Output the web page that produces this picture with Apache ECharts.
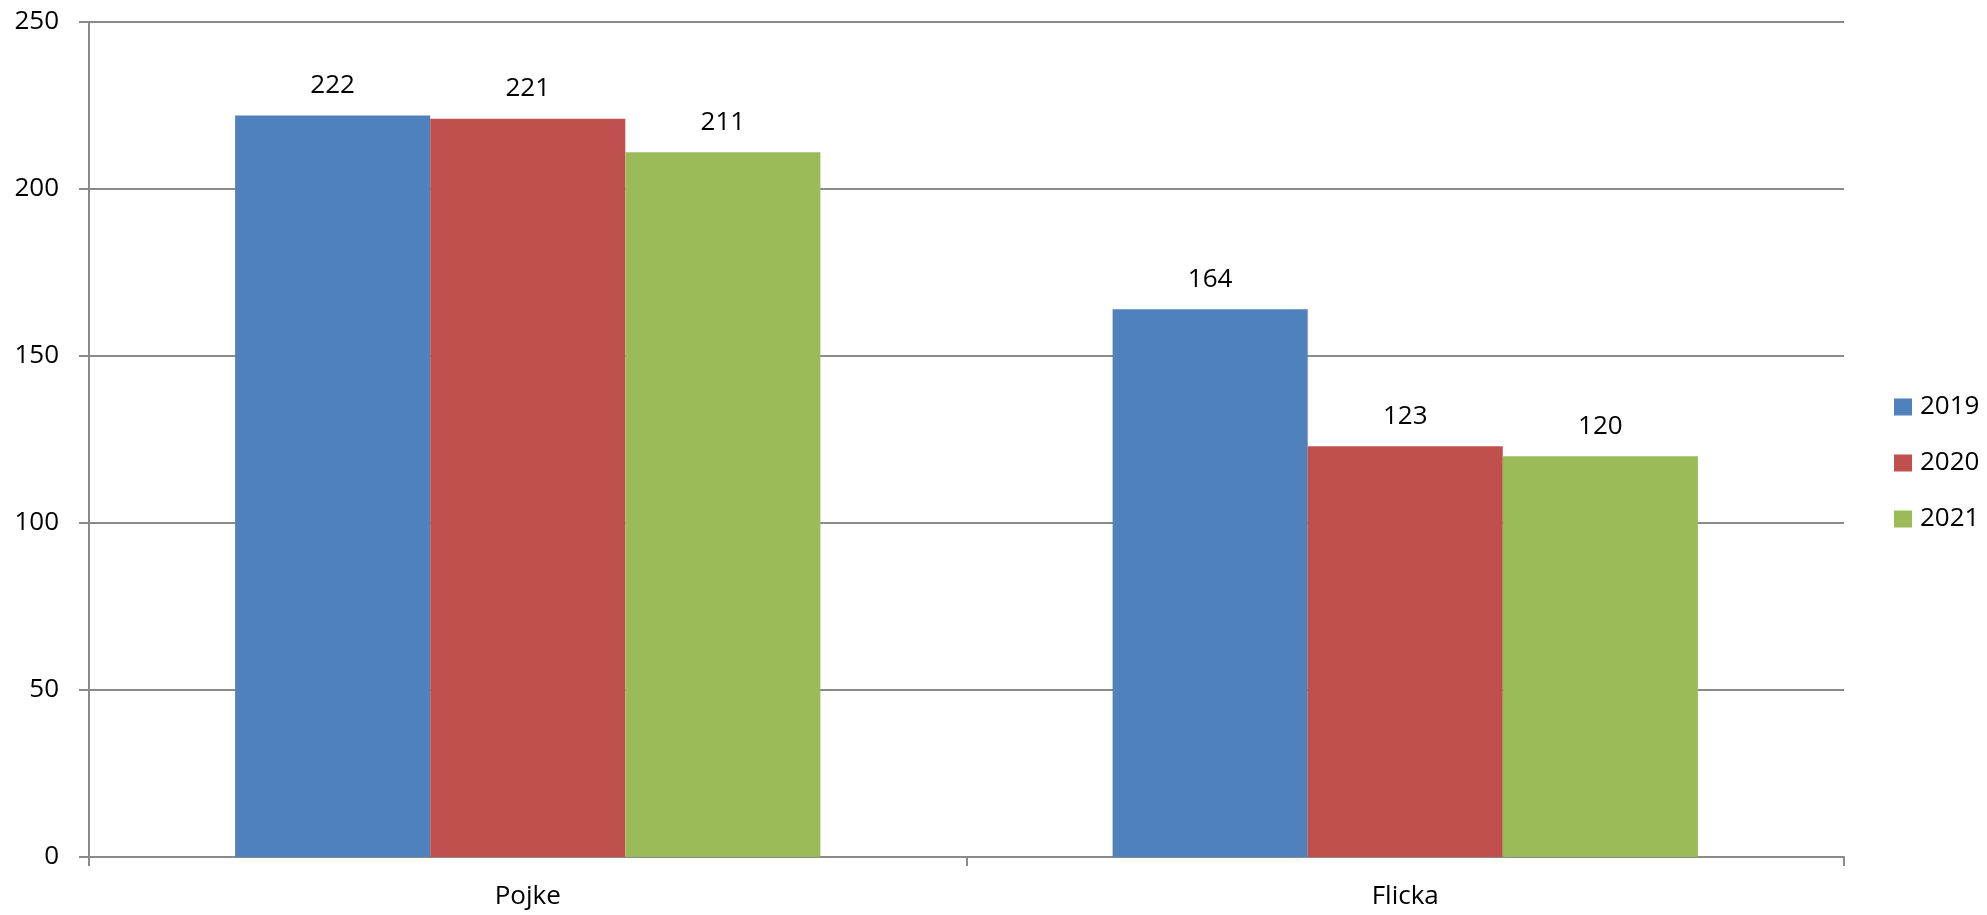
<!DOCTYPE html>
<html>
<head>
<meta charset="utf-8">
<script src="https://cdn.jsdelivr.net/npm/echarts@6/dist/echarts.min.js"></script>
<style>
  html, body { margin: 0; padding: 0; background: #fff; }
  #chart { width: 1987px; height: 915px; }
</style>
</head>
<body>
<div id="chart"></div>
<script>
// data
const categories = ['Pojke', 'Flicka']
const years = ['2019', '2020', '2021']
const values2019 = [222, 164]
const values2020 = [221, 123]
const values2021 = [211, 120]
const colors = ['#4F81BD', '#C0504D', '#9BBB59']

const font = '"Open Sans", sans-serif'
const axisGray = '#8a8a8a'

const chart = echarts.init(document.getElementById('chart'))

const seriesData = [values2019, values2020, values2021]
const series = years.map((y, i) => ({
  name: y,
  type: 'bar',
  data: seriesData[i],
  barGap: '0%',
  barCategoryGap: '33.3%',
  itemStyle: { color: colors[i] },
  label: {
    show: true,
    position: 'top',
    distance: 17,
    fontFamily: font,
    fontSize: 26,
    color: '#000'
  }
}))

chart.setOption({
  animation: false,
  color: colors,
  grid: { left: 89, right: 143, top: 22, bottom: 58, containLabel: false },
  legend: {
    orient: 'vertical',
    left: 1889,
    top: 389,
    itemWidth: 18,
    itemHeight: 17,
    itemGap: 30,
    icon: 'rect',
    textStyle: { fontFamily: font, fontSize: 26, color: '#000', lineHeight: 26, padding: [0, 0, 0, 3] },
    data: years
  },
  xAxis: {
    type: 'category',
    data: categories,
    axisLine: { lineStyle: { color: axisGray, width: 2 } },
    axisTick: { show: true, length: 9, lineStyle: { color: axisGray, width: 2 } },
    axisLabel: { fontFamily: font, fontSize: 26, color: '#000', margin: 27 }
  },
  yAxis: {
    type: 'value',
    min: 0,
    max: 250,
    interval: 50,
    axisLine: { show: true, lineStyle: { color: axisGray, width: 2 } },
    axisTick: { show: true, length: 10, lineStyle: { color: axisGray, width: 2 } },
    splitLine: { lineStyle: { color: axisGray, width: 2 } },
    axisLabel: { fontFamily: font, fontSize: 26, color: '#000', margin: 30 }
  },
  series
})
</script>
</body>
</html>
